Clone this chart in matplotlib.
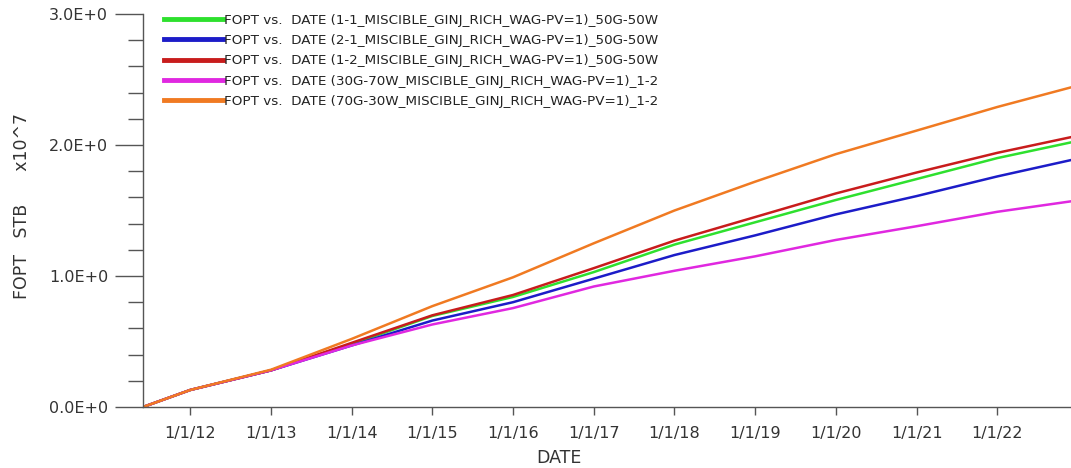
import numpy as np
import matplotlib
matplotlib.use('agg')
import matplotlib.pyplot as plt
import matplotlib.dates as mdates
from matplotlib.ticker import FuncFormatter, MultipleLocator
from datetime import datetime

# dates of the report steps (start, yearly, end)
dates = [datetime(2011, 6, 1)] + [datetime(y, 1, 1) for y in range(2012, 2023)] + [datetime(2022, 12, 1)]

# cumulative oil production, units of 1e7 STB
fopt_11 = [0.0, 0.13, 0.28, 0.48, 0.695, 0.84, 1.03, 1.24, 1.41, 1.58, 1.74, 1.90, 2.02]
fopt_21 = [0.0, 0.13, 0.28, 0.47, 0.66, 0.80, 0.98, 1.16, 1.31, 1.47, 1.61, 1.76, 1.885]
fopt_12 = [0.0, 0.13, 0.28, 0.49, 0.70, 0.855, 1.06, 1.27, 1.45, 1.63, 1.79, 1.94, 2.06]
fopt_30g = [0.0, 0.13, 0.28, 0.47, 0.63, 0.755, 0.92, 1.04, 1.15, 1.275, 1.38, 1.49, 1.57]
fopt_70g = [0.0, 0.13, 0.285, 0.52, 0.77, 0.99, 1.25, 1.50, 1.72, 1.93, 2.11, 2.29, 2.44]

labels = [
    "FOPT vs.  DATE (1-1_MISCIBLE_GINJ_RICH_WAG-PV=1)_50G-50W",
    "FOPT vs.  DATE (2-1_MISCIBLE_GINJ_RICH_WAG-PV=1)_50G-50W",
    "FOPT vs.  DATE (1-2_MISCIBLE_GINJ_RICH_WAG-PV=1)_50G-50W",
    "FOPT vs.  DATE (30G-70W_MISCIBLE_GINJ_RICH_WAG-PV=1)_1-2",
    "FOPT vs.  DATE (70G-30W_MISCIBLE_GINJ_RICH_WAG-PV=1)_1-2",
]
colors = ['#2ee02e', '#1c1cc8', '#c81c1c', '#e028e0', '#f07a22']
series = [fopt_11, fopt_21, fopt_12, fopt_30g, fopt_70g]

plt.rcParams['font.family'] = ['DejaVu Sans']
txt = '#333333'
axc = '#555555'

fig = plt.figure(figsize=(10.71, 4.68), dpi=100)
ax = fig.add_axes([143 / 1071, 1 - 407 / 468, 1 - 143 / 1071, (407 - 14) / 468])

lines = []
for vals, c, lab in zip(series, colors, labels):
    ln, = ax.plot(dates, vals, color=c, lw=1.8, label=lab)
    lines.append(ln)

ax.set_xlim(dates[0], dates[-1])
ax.set_ylim(0, 3.0)

ax.xaxis.set_major_locator(mdates.YearLocator())
ax.xaxis.set_major_formatter(FuncFormatter(
    lambda v, p: "%d/%d/%02d" % (mdates.num2date(v).month, mdates.num2date(v).day, mdates.num2date(v).year % 100)))
ax.yaxis.set_major_locator(MultipleLocator(1.0))
ax.yaxis.set_minor_locator(MultipleLocator(0.2))
ax.yaxis.set_major_formatter(FuncFormatter(lambda v, p: "%.1fE+0" % v))

for s in ['top', 'right']:
    ax.spines[s].set_visible(False)
for s in ['left', 'bottom']:
    ax.spines[s].set_color(axc)
    ax.spines[s].set_linewidth(1.0)

ax.tick_params(axis='y', which='major', length=20, width=1, color=axc, labelcolor=txt, labelsize=11.5, pad=5)
ax.tick_params(axis='y', which='minor', length=11, width=1, color=axc)
ax.tick_params(axis='x', which='major', length=6, width=1, color=axc, labelcolor=txt, labelsize=11.5, pad=8)

fig.text(22 / 1071, 1 - 206 / 468, "FOPT   STB      x10^7", rotation=90, ha='center', va='center',
         fontsize=12.5, color=txt)
fig.text(559 / 1071, 1 - 458 / 468, "DATE", ha='center', va='center', fontsize=12.5, color=txt)

leg = ax.legend(handles=lines, loc='upper left', bbox_to_anchor=(157 / 1071, 1 - 7 / 468),
                bbox_transform=fig.transFigure, frameon=False, fontsize=9.7,
                handlelength=4.4, handletextpad=0.1, labelspacing=0.54, borderpad=0)
for h in leg.get_lines():
    h.set_linewidth(3.5)
for t in leg.get_texts():
    t.set_color('#222222')

fig.savefig("out.png", dpi=100)
